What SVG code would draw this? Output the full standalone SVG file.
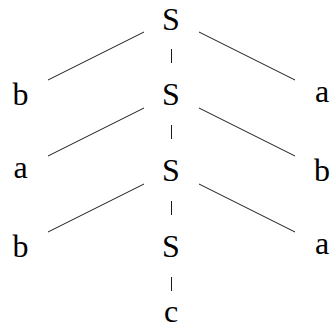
<svg xmlns="http://www.w3.org/2000/svg" width="331" height="329" viewBox="0 0 331 329">
<style>
.t{font-family:'Liberation Serif','DejaVu Serif','Times New Roman',serif;font-size:32px;fill:#000;text-anchor:middle}
line{stroke:#000;stroke-width:0.9}
</style>
<rect width="331" height="329" fill="#fff"/>
<g id="connectors">
<line x1="144" y1="32" x2="48" y2="80"/>
<line x1="171.5" y1="49" x2="171.5" y2="63"/>
<line x1="199" y1="32" x2="295" y2="80"/>
<line x1="144" y1="108" x2="48" y2="156"/>
<line x1="171.5" y1="125" x2="171.5" y2="139"/>
<line x1="199" y1="108" x2="295" y2="156"/>
<line x1="144" y1="184" x2="48" y2="232"/>
<line x1="171.5" y1="201" x2="171.5" y2="215"/>
<line x1="199" y1="184" x2="295" y2="232"/>
<line x1="171.5" y1="277" x2="171.5" y2="291"/>
</g>
<g id="S1"><text class="t" x="171" y="29.5">S</text></g>
<g id="b1"><text class="t" x="20.5" y="105">b</text></g>
<g id="S2"><text class="t" x="171" y="105">S</text></g>
<g id="a1"><text class="t" x="322" y="101.5">a</text></g>
<g id="a2"><text class="t" x="20.5" y="177.5">a</text></g>
<g id="S3"><text class="t" x="171" y="181">S</text></g>
<g id="b2"><text class="t" x="322" y="181">b</text></g>
<g id="b3"><text class="t" x="20.5" y="257">b</text></g>
<g id="S4"><text class="t" x="171" y="257">S</text></g>
<g id="a3"><text class="t" x="322" y="253.5">a</text></g>
<g id="c"><text class="t" x="171" y="321.5">c</text></g>
</svg>
